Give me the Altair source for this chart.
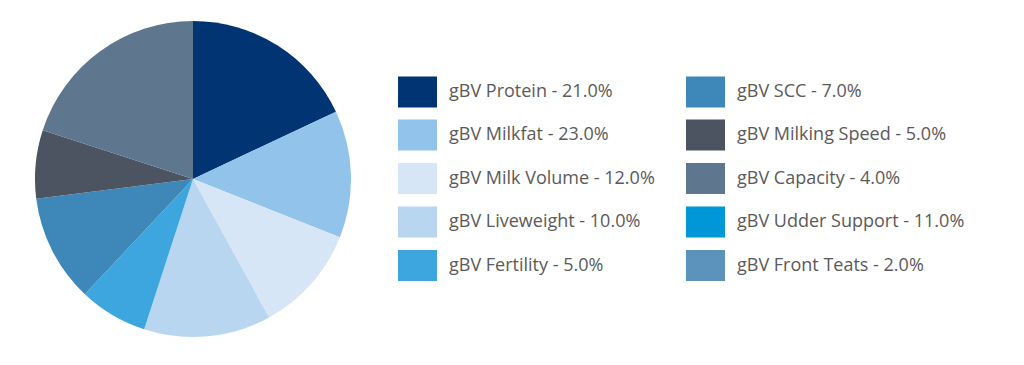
import altair as alt
import pandas as pd

# Pie slices as drawn (share of circle, %)
slice_labels = [
    "gBV Protein - 21.0%",
    "gBV Milkfat - 23.0%",
    "gBV Milk Volume - 12.0%",
    "gBV Liveweight - 10.0%",
    "gBV Fertility - 5.0%",
    "gBV SCC - 7.0%",
    "gBV Milking Speed - 5.0%",
    "gBV Capacity - 4.0%",
]
slice_values = [18, 13, 11, 13, 7, 11, 7, 20]

# Legend entries (column-wise for a 2-column legend)
legend_labels = [
    "gBV Protein - 21.0%",
    "gBV Milkfat - 23.0%",
    "gBV Milk Volume - 12.0%",
    "gBV Liveweight - 10.0%",
    "gBV Fertility - 5.0%",
    "gBV SCC - 7.0%",
    "gBV Milking Speed - 5.0%",
    "gBV Capacity - 4.0%",
    "gBV Udder Support - 11.0%",
    "gBV Front Teats - 2.0%",
]
legend_colors = [
    "#003473",
    "#92c3ea",
    "#d6e6f6",
    "#b8d6f0",
    "#3ea6de",
    "#3d88b9",
    "#4c5462",
    "#5e768e",
    "#0097d8",
    "#5b93bc",
]

df = pd.DataFrame({
    "label": slice_labels,
    "value": slice_values,
    "order": list(range(len(slice_labels))),
})

rect_path = "M-1,-0.795H1V0.795H-1Z"

chart = (
    alt.Chart(df)
    .mark_arc(outerRadius=158, stroke=None)
    .encode(
        theta=alt.Theta("value:Q", stack=True),
        order=alt.Order("order:Q"),
        color=alt.Color(
            "label:N",
            scale=alt.Scale(domain=legend_labels, range=legend_colors),
            legend=alt.Legend(
                title=None,
                orient="none",
                legendX=390,
                legendY=64,
                columns=2,
                symbolType=rect_path,
                symbolSize=1521,
                symbolStrokeWidth=0,
                symbolOpacity=1,
                labelFont="Open Sans",
                labelFontSize=18,
                labelColor="#5a5a5a",
                labelOffset=12,
                labelLimit=400,
                rowPadding=7.5,
                columnPadding=31,
            ),
        ),
    )
    .properties(width=370, height=342, padding=0)
    .configure_view(stroke=None)
)

chart.save("out.html", embed_options={"renderer": "svg", "actions": False})
